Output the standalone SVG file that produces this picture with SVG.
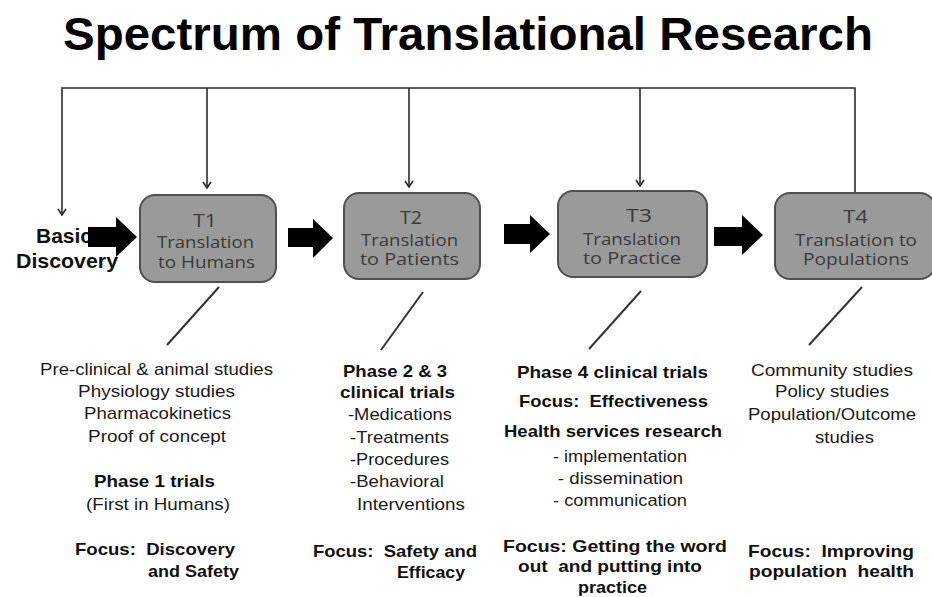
<svg xmlns="http://www.w3.org/2000/svg" width="932" height="597" viewBox="0 0 932 597">
<style>
  .title { font-family: "Liberation Sans", Arial, sans-serif; font-weight: bold; font-size: 47px; fill: #000; }
  .basic { font-family: "Liberation Sans", Arial, sans-serif; font-weight: bold; font-size: 21px; fill: #111; }
  .box { fill: #9a9a9a; stroke: #505050; stroke-width: 2; }
  .bt { font-family: "Open Sans", "Noto Sans", sans-serif; font-size: 17px; fill: #3a3a3a; }
  .bt1 { font-family: "Open Sans", "Noto Sans", sans-serif; font-size: 19px; fill: #3a3a3a; }
  .t { font-family: "Liberation Sans", Arial, sans-serif; font-size: 17px; fill: #1a1a1a; white-space: pre; }
  .b { font-family: "Liberation Sans", Arial, sans-serif; font-size: 17px; font-weight: bold; fill: #111; white-space: pre; }
  .conn { stroke: #2a2a2a; stroke-width: 1.6; fill: none; }
  .diag { stroke: #333; stroke-width: 2; fill: none; }
  .block { fill: #000; }
</style>
<defs>
  <marker id="head" viewBox="0 0 10 10" refX="9" refY="5" markerWidth="10" markerHeight="10" markerUnits="userSpaceOnUse" orient="auto">
    <path d="M3,1 L9,5 L3,9" fill="none" stroke="#2a2a2a" stroke-width="1.6"/>
  </marker>
</defs>
<rect width="932" height="597" fill="#fff"/>
<text class="title" x="63" y="50" textLength="810" lengthAdjust="spacingAndGlyphs">Spectrum of Translational Research</text>

<g id="basic-discovery">
  <text class="basic" x="36" y="243" textLength="56" lengthAdjust="spacingAndGlyphs">Basic</text>
  <text class="basic" x="16" y="268" textLength="102" lengthAdjust="spacingAndGlyphs">Discovery</text>
</g>

<g id="connectors">
  <polyline class="conn" points="855,193 855,88 62,88 62,215" marker-end="url(#head)"/>
  <line class="conn" x1="207" y1="88" x2="207" y2="188" marker-end="url(#head)"/>
  <line class="conn" x1="409" y1="88" x2="409" y2="187" marker-end="url(#head)"/>
  <line class="conn" x1="640" y1="88" x2="640" y2="186" marker-end="url(#head)"/>
  <polygon class="block" points="88,227 116,227 116,217 137,237 116,257 116,247 88,247"/>
  <polygon class="block" points="288,228 313,228 313,219 333,238 313,258 313,247 288,247"/>
  <polygon class="block" points="504,224 530,224 530,215 550,234 530,253 530,244 504,244"/>
  <polygon class="block" points="714,227 742,227 742,215 763,235 742,255 742,246 714,246"/>
  <line class="diag" x1="219" y1="287" x2="167" y2="345"/>
  <line class="diag" x1="423" y1="292" x2="381" y2="350"/>
  <line class="diag" x1="641" y1="291" x2="589" y2="349"/>
  <line class="diag" x1="862" y1="287" x2="809" y2="345"/>
</g>

<g id="t1">
  <rect class="box" x="140" y="195" width="136" height="87" rx="15"/>
  <text class="bt1" x="193" y="227" textLength="24" lengthAdjust="spacingAndGlyphs">T1</text>
  <text class="bt" x="157" y="248" textLength="97" lengthAdjust="spacingAndGlyphs">Translation</text>
  <text class="bt" x="158" y="268" textLength="97" lengthAdjust="spacingAndGlyphs">to Humans</text>
</g>
<g id="t2">
  <rect class="box" x="344" y="193" width="136" height="86" rx="15"/>
  <text class="bt1" x="400" y="224" textLength="22" lengthAdjust="spacingAndGlyphs">T2</text>
  <text class="bt" x="361" y="246" textLength="97" lengthAdjust="spacingAndGlyphs">Translation</text>
  <text class="bt" x="360" y="265" textLength="99" lengthAdjust="spacingAndGlyphs">to Patients</text>
</g>
<g id="t3">
  <rect class="box" x="558" y="191" width="149" height="86" rx="15"/>
  <text class="bt1" x="626" y="222" textLength="26" lengthAdjust="spacingAndGlyphs">T3</text>
  <text class="bt" x="583" y="245" textLength="98" lengthAdjust="spacingAndGlyphs">Translation</text>
  <text class="bt" x="583" y="264" textLength="98" lengthAdjust="spacingAndGlyphs">to Practice</text>
</g>
<g id="t4">
  <rect class="box" x="775" y="193" width="160" height="86" rx="15"/>
  <text class="bt1" x="843" y="223" textLength="25" lengthAdjust="spacingAndGlyphs">T4</text>
  <text class="bt" x="795" y="246" textLength="122" lengthAdjust="spacingAndGlyphs">Translation to</text>
  <text class="bt" x="803" y="265" textLength="106" lengthAdjust="spacingAndGlyphs">Populations</text>
</g>

<g id="col1">
  <text class="t" x="40" y="375" textLength="233" lengthAdjust="spacingAndGlyphs">Pre-clinical &amp; animal studies</text>
  <text class="t" x="78" y="397" textLength="157" lengthAdjust="spacingAndGlyphs">Physiology studies</text>
  <text class="t" x="84" y="419" textLength="147" lengthAdjust="spacingAndGlyphs">Pharmacokinetics</text>
  <text class="t" x="88" y="442" textLength="138" lengthAdjust="spacingAndGlyphs">Proof of concept</text>
  <text class="b" x="94" y="487" textLength="121" lengthAdjust="spacingAndGlyphs">Phase 1 trials</text>
  <text class="t" x="86" y="510" textLength="144" lengthAdjust="spacingAndGlyphs">(First in Humans)</text>
  <text class="b" x="75" y="555" textLength="160" lengthAdjust="spacingAndGlyphs" xml:space="preserve">Focus:  Discovery</text>
  <text class="b" x="148" y="577" textLength="91" lengthAdjust="spacingAndGlyphs">and Safety</text>
</g>
<g id="col2">
  <text class="b" x="343" y="377" textLength="104" lengthAdjust="spacingAndGlyphs">Phase 2 &amp; 3</text>
  <text class="b" x="340" y="398" textLength="115" lengthAdjust="spacingAndGlyphs">clinical trials</text>
  <text class="t" x="348" y="420" textLength="104" lengthAdjust="spacingAndGlyphs">-Medications</text>
  <text class="t" x="350" y="443" textLength="99" lengthAdjust="spacingAndGlyphs">-Treatments</text>
  <text class="t" x="350" y="465" textLength="99" lengthAdjust="spacingAndGlyphs">-Procedures</text>
  <text class="t" x="350" y="487" textLength="94" lengthAdjust="spacingAndGlyphs">-Behavioral</text>
  <text class="t" x="357" y="510" textLength="108" lengthAdjust="spacingAndGlyphs">Interventions</text>
  <text class="b" x="313" y="557" textLength="164" lengthAdjust="spacingAndGlyphs" xml:space="preserve">Focus:  Safety and</text>
  <text class="b" x="397" y="578" textLength="68" lengthAdjust="spacingAndGlyphs">Efficacy</text>
</g>
<g id="col3">
  <text class="b" x="517" y="378" textLength="191" lengthAdjust="spacingAndGlyphs">Phase 4 clinical trials</text>
  <text class="b" x="519" y="407" textLength="189" lengthAdjust="spacingAndGlyphs" xml:space="preserve">Focus:  Effectiveness</text>
  <text class="b" x="504" y="437" textLength="218" lengthAdjust="spacingAndGlyphs">Health services research</text>
  <text class="t" x="553" y="462" textLength="134" lengthAdjust="spacingAndGlyphs">- implementation</text>
  <text class="t" x="558" y="484" textLength="125" lengthAdjust="spacingAndGlyphs">- dissemination</text>
  <text class="t" x="553" y="506" textLength="134" lengthAdjust="spacingAndGlyphs">- communication</text>
  <text class="b" x="503" y="552" textLength="224" lengthAdjust="spacingAndGlyphs">Focus: Getting the word</text>
  <text class="b" x="518" y="572" textLength="184" lengthAdjust="spacingAndGlyphs" xml:space="preserve">out  and putting into</text>
  <text class="b" x="578" y="593" textLength="69" lengthAdjust="spacingAndGlyphs">practice</text>
</g>
<g id="col4">
  <text class="t" x="751" y="376" textLength="162" lengthAdjust="spacingAndGlyphs">Community studies</text>
  <text class="t" x="775" y="397" textLength="114" lengthAdjust="spacingAndGlyphs">Policy studies</text>
  <text class="t" x="748" y="420" textLength="168" lengthAdjust="spacingAndGlyphs">Population/Outcome</text>
  <text class="t" x="815" y="443" textLength="59" lengthAdjust="spacingAndGlyphs">studies</text>
  <text class="b" x="748" y="557" textLength="166" lengthAdjust="spacingAndGlyphs" xml:space="preserve">Focus:  Improving</text>
  <text class="b" x="749" y="577" textLength="165" lengthAdjust="spacingAndGlyphs" xml:space="preserve">population  health</text>
</g>
</svg>
